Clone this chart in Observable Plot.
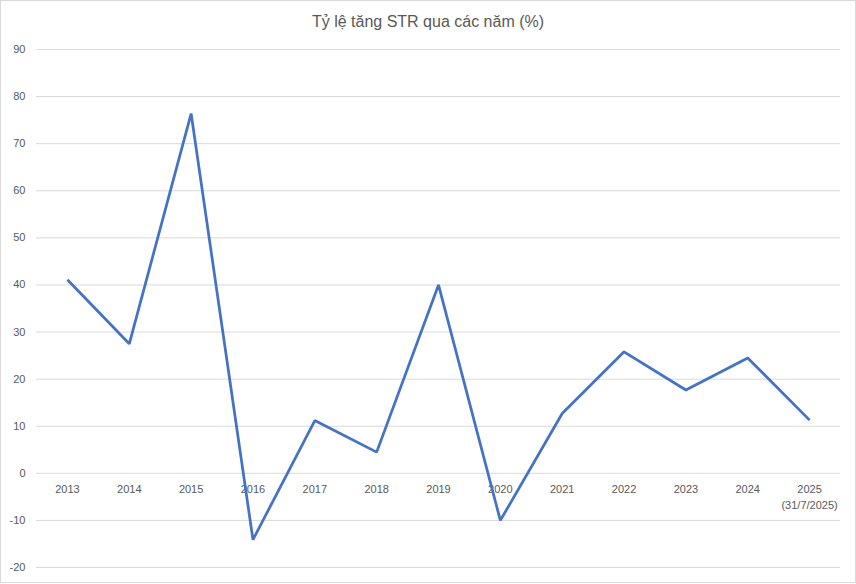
<!DOCTYPE html>
<html>
<head>
<meta charset="utf-8">
<script src="https://cdn.jsdelivr.net/npm/d3@7"></script>
<script src="https://cdn.jsdelivr.net/npm/@observablehq/plot@0.6"></script>
<style>
  html, body { margin: 0; padding: 0; background: #fff; }
  #wrap { position: relative; width: 856px; height: 584px; overflow: hidden; background: #fff; }
  #frame { position: absolute; left: 0; top: 0; width: 856px; height: 583px; box-sizing: border-box; border: 1px solid #d9d9d9; pointer-events: none; }
  #title { height: 40px; box-sizing: border-box; padding-top: 12px; text-align: center; font-family: "Liberation Sans", Arial, sans-serif; font-size: 16px; color: #595959; line-height: 20px; }
  svg { display: block; }
</style>
</head>
<body>
<div id="wrap">
  <div id="title">Tỷ lệ tăng STR qua các năm (%)</div>
  <div id="chart"></div>
  <div id="frame"></div>
</div>
<script>
const years = ["2013","2014","2015","2016","2017","2018","2019","2020","2021","2022","2023","2024","2025"];
const yearLabels = ["2013","2014","2015","2016","2017","2018","2019","2020","2021","2022","2023","2024","2025\n(31/7/2025)"];
const values = [41.1, 27.5, 76.4, -14.1, 11.2, 4.5, 40.0, -10.0, 12.7, 25.8, 17.7, 24.5, 11.3];
const yTicks = [-20, -10, 0, 10, 20, 30, 40, 50, 60, 70, 80, 90];

const data = years.map((y, i) => ({year: y, label: yearLabels[i], value: values[i]}));

const chart = Plot.plot({
  width: 856,
  height: 544,
  marginTop: 9,
  marginBottom: 17,
  marginLeft: 36,
  marginRight: 16,
  style: {fontFamily: "'Liberation Sans', Arial, sans-serif", fontSize: "11px", color: "#595959", background: "#fff"},
  x: {type: "point", domain: years, padding: 0.5, round: false, axis: null},
  y: {domain: [-20, 90], ticks: yTicks, tickSize: 0, tickPadding: 11, label: null, tickFormat: d => String(d)},
  marks: [
    Plot.ruleY(yTicks, {stroke: "#d9d9d9", strokeWidth: 1}),
    Plot.axisY({ticks: yTicks, tickSize: 0, tickPadding: 11, label: null, fill: "#595959", tickFormat: d => String(d)}),
    Plot.text(data, {x: "year", y: () => 0, text: "label", dy: 9, lineAnchor: "top", lineHeight: 1.4, fill: "#595959", fontSize: 11}),
    Plot.line(data, {x: "year", y: "value", stroke: "#4472C4", strokeWidth: 2.75, strokeLinejoin: "miter", strokeLinecap: "butt"})
  ]
});
document.getElementById("chart").appendChild(chart);
</script>
</body>
</html>
